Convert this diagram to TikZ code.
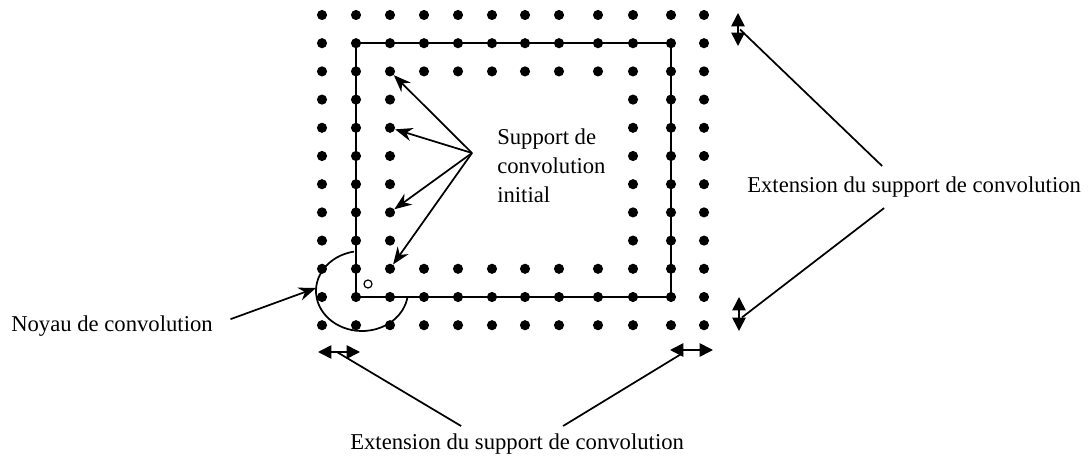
\documentclass[tikz,border=0pt]{standalone}
\usepackage{fontspec}
\setmainfont{Liberation Serif}
\usepackage{tikz}
\usetikzlibrary{arrows.meta,calc}
\tikzstyle{griddot}=[circle, fill=black, inner sep=0pt, minimum size=7.6pt]
\tikzstyle{legende}=[inner sep=0pt, font=\fontsize{17}{21.75}\selectfont]
\tikzstyle{trait}=[line width=1.3pt]
\tikzstyle{fleche}=[trait, -{Stealth[length=13pt,width=10pt]}]
\tikzstyle{dfleche}=[line width=1.2pt, {Triangle[length=10pt,width=10pt]}-{Triangle[length=10pt,width=10pt]}]
\newcommand{\extfleche}[3]{
	\coordinate (#1-a) at #2;
	\coordinate (#1-b) at #3;
	\draw[dfleche] (#1-a) -- (#1-b);
}

\begin{document}
\begin{tikzpicture}[x=0.75pt, y=-0.75pt]
\useasboundingbox (0,0) rectangle (1091,466);
%
% les trois couronnes de points
\foreach \c/\x in {0/322,1/356,2/390,3/424,4/458,5/492,6/525,7/559,8/598,9/633,10/671,11/704}{
	\foreach \r in {0,...,11}{
		\pgfmathtruncatemacro{\ring}{min(min(\c,\r),min(11-\c,11-\r))}
		\ifnum\ring<3
			\node[griddot] (d-\c-\r) at (\x,{15+28.2*\r}) {};
		\fi
	}
}
\draw[line width=1.6pt] (d-1-1.center) rectangle (d-10-10.center);
%
% noyau
\coordinate (noyau-c) at (362,291);
\draw[trait] (noyau-c) ++(260:46 and 40) arc[start angle=260, end angle=10, x radius=46, y radius=40];
\draw[line width=0.9pt] (368,284) circle (3pt);
\coordinate (noyau-g) at (316,288);
\node[legende, anchor=base west] (noyau) at (11,331) {Noyau de convolution};
\draw[fleche, shorten <=14pt] (noyau.east) -- (noyau-g);
%
% support initial
\node[legende, align=left, anchor=north west] (support) at (497,129) {Support de\\convolution\\initial};
\coordinate (apex) at (472,153);
\foreach \r in {2,4,7,9}
	\draw[fleche] (apex) -- (d-2-\r);
%
% extensions
\extfleche{eh}{(738,13)}{(738,46)}
\extfleche{eb}{(739,297)}{(739,331)}
\extfleche{bg}{(318,352)}{(360,352)}
\extfleche{bd}{(670,350)}{(713,350)}
\node[legende, anchor=base west] (ext-d) at (747,193) {Extension du support de convolution};
\node[legende, anchor=base west] (ext-b) at (350,449) {Extension du support de convolution};
\draw[trait] ($(ext-d.north)+(-32,-11)$) -- ($(eh-a)!0.5!(eh-b)+(2,0)$);
\draw[trait] ($(ext-d.south)+(-30,10)$) -- ($(eb-a)!0.6!(eb-b)+(3,0)$);
\draw[trait] ($(ext-b.north)+(-56,-7)$) -- ($(bg-a)!0.45!(bg-b)$);
\draw[trait] ($(ext-b.north)+(46,-7)$) -- ($(bd-a)!0.3!(bd-b)+(0,3)$);
\end{tikzpicture}
\end{document}
